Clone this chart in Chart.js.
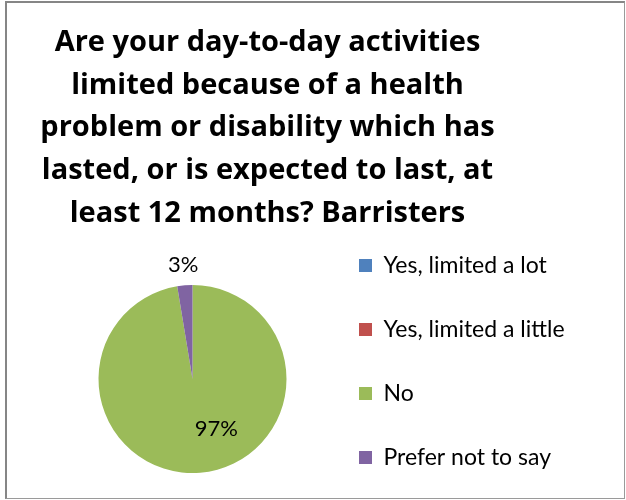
<!DOCTYPE html>
<html>
<head>
<meta charset="utf-8">
<script src="https://cdn.jsdelivr.net/npm/chart.js@4.4.0/dist/chart.umd.min.js"></script>
<style>
  html, body { margin: 0; padding: 0; background: #fff; }
  #wrap { position: relative; width: 626px; height: 500px; }
  #chart { position: absolute; left: 0; top: 0; }
  #frame {
    position: absolute; left: 5px; top: 1px; width: 620px; height: 498px;
    box-sizing: border-box; border: 2px solid #868686;
    border-right: 1px solid #9a9a9a; border-bottom: 1px solid #9a9a9a;
    pointer-events: none;
  }
</style>
</head>
<body>
<div id="wrap">
  <canvas id="chart" width="626" height="500"></canvas>
  <div id="frame"></div>
</div>
<script>
const titleLines = [
    'Are your day-to-day activities',
    'limited because of a health',
    'problem or disability which has',
    'lasted, or is expected to last, at',
    'least 12 months? Barristers'
];
const categories = ['Yes, limited a lot', 'Yes, limited a little', 'No', 'Prefer not to say'];
const percentages = [0, 0, 97.4, 2.6];
const sliceColors = ['#4F81BD', '#C0504D', '#9BBB59', '#8064A2'];

const titleFamily = 'Open Sans';
const legendFamily = 'Lato';
const legendFontSize = 23;
const legendRowGap = 64;
const legendPadding = legendRowGap - legendFontSize;
const boxSize = 13;

// layout targets (px)
const pieCenterX = 192.5;
const titleCenterX = 267.5;
const legendMarkerX = 359;

const mctx = document.createElement('canvas').getContext('2d');
mctx.font = legendFontSize + 'px ' + legendFamily;
const maxTextW = Math.max(...categories.map(c => mctx.measureText(c).width));
const legendW = legendPadding + boxSize + legendFontSize / 2 + maxTextW + 10;
const legendLeft = legendMarkerX - legendPadding;
const padRight = 626 - legendLeft - legendW;
const padLeft = 2 * titleCenterX - 626 + padRight;
const areaLeft = 2 * pieCenterX - legendLeft;
const spacerW = areaLeft - padLeft;

// empty box on the left so the pie sits left of the title centre
const leftSpacer = {
    id: 'leftSpacer',
    beforeInit(chart) {
        Chart.layouts.addBox(chart, {
            position: 'left',
            weight: 0,
            fullSize: false,
            options: { display: false },
            isHorizontal() { return false; },
            update(maxWidth, maxHeight) {
                this.width = spacerW;
                this.height = maxHeight || 0;
            },
            draw() {}
        });
    }
};

// percent labels: small slice outside, big slice inside (Excel "best fit")
const pieLabels = {
    id: 'pieLabels',
    afterDatasetsDraw(chart) {
        const ctx = chart.ctx;
        const meta = chart.getDatasetMeta(0);
        ctx.save();
        ctx.font = '22px ' + legendFamily;
        ctx.fillStyle = '#000';
        ctx.textAlign = 'center';
        ctx.textBaseline = 'middle';
        meta.data.forEach((arc, i) => {
            const v = percentages[i];
            if (!v) return;
            const mid = (arc.startAngle + arc.endAngle) / 2;
            let a, d;
            if (v > 50) {
                a = mid - 0.36;
                d = arc.outerRadius * 0.59;
            } else {
                a = mid;
                d = arc.outerRadius + 20;
            }
            ctx.fillText(Math.round(v) + '%', arc.x + Math.cos(a) * d, arc.y + Math.sin(a) * d);
        });
        ctx.restore();
    }
};

Chart.defaults.font.family = legendFamily;
Chart.defaults.color = '#000';

new Chart(document.getElementById('chart'), {
    type: 'pie',
    data: {
        labels: categories,
        datasets: [{
            data: percentages,
            backgroundColor: sliceColors,
            borderWidth: 0
        }]
    },
    options: {
        responsive: false,
        animation: false,
        radius: 94,
        layout: {
            padding: { left: padLeft, right: padRight, top: 0, bottom: -10 }
        },
        plugins: {
            title: {
                display: true,
                text: titleLines,
                color: '#000',
                font: { family: titleFamily, size: 29, weight: 'bold', lineHeight: '42.75px' },
                padding: { top: 21.3, bottom: 22.95 }
            },
            legend: {
                position: 'right',
                align: 'end',
                labels: {
                    boxWidth: boxSize,
                    boxHeight: boxSize,
                    padding: legendPadding,
                    color: '#000',
                    font: { size: legendFontSize }
                }
            },
            tooltip: { enabled: false }
        }
    },
    plugins: [leftSpacer, pieLabels]
});
</script>
</body>
</html>
